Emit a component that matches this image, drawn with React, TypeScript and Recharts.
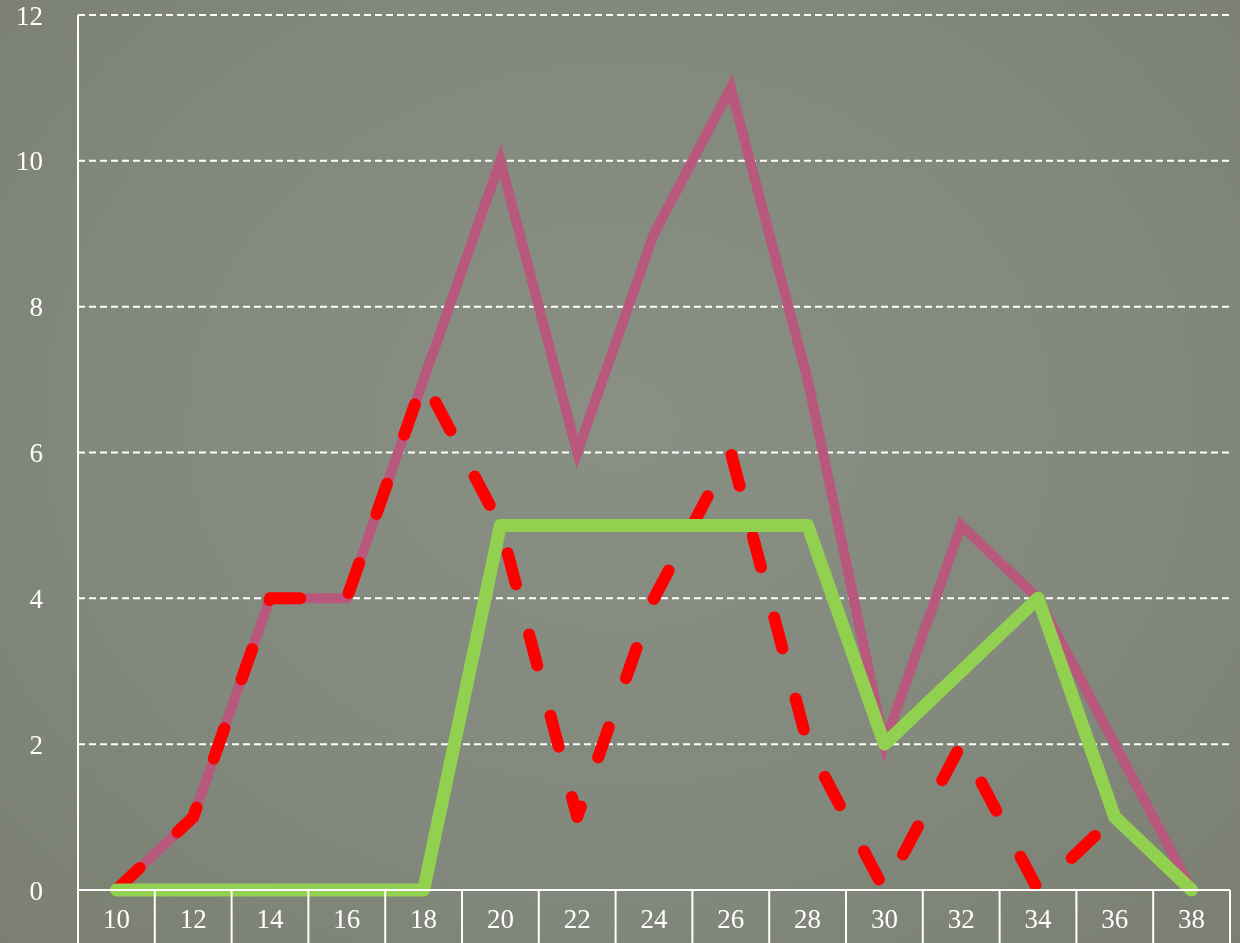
import React from 'react';
import { LineChart, Line, XAxis, YAxis, CartesianGrid } from 'recharts';

const categories = ['10', '12', '14', '16', '18', '20', '22', '24', '26', '28', '30', '32', '34', '36', '38'];
const pinkValues = [0, 1, 4, 4, 7, 10, 6, 9, 11, 7, 2, 5, 4, 2, 0];
const redValues = [0, 1, 4, 4, 7, 5, 1, 4, 6, 2, 0, 2, 0, 1, 0];
const greenValues = [0, 0, 0, 0, 0, 5, 5, 5, 5, 5, 2, 3, 4, 1, 0];
const yTicks = [0, 2, 4, 6, 8, 10, 12];

const data = categories.map((c, i) => ({
  x: c,
  pink: pinkValues[i],
  red: redValues[i],
  green: greenValues[i],
}));

const FONT = '"Liberation Serif", "DejaVu Serif", serif';

// category labels in white boxes: separators sit on the band edges
const XTick = (props: any) => {
  const { x, y, payload, index } = props;
  const half = payload.offset || 0;
  const last = index === categories.length - 1;
  return (
    <g>
      <line x1={x - half} y1={y} x2={x - half} y2={y + 60} stroke="#fff" strokeWidth={2} />
      {last && <line x1={x + half} y1={y} x2={x + half} y2={y + 60} stroke="#fff" strokeWidth={2} />}
      <text x={x} y={y + 38} textAnchor="middle" fill="#fff" fontSize={27} fontFamily={FONT}>
        {payload.value}
      </text>
    </g>
  );
};

export default function App() {
  return (
    <div
      style={{
        position: 'fixed',
        left: 0,
        top: 0,
        width: 1240,
        height: 943,
        overflow: 'hidden',
        background: 'radial-gradient(ellipse at 50% 45%, #8a8f84 0%, #83887c 60%, #7a7f72 100%)',
      }}
    >
      <LineChart
        width={1240}
        height={943}
        data={data}
        margin={{ top: 15, right: 10, bottom: 0, left: 0 }}
      >
        <CartesianGrid
          vertical={false}
          stroke="#fff"
          strokeWidth={2}
          strokeDasharray="7 4"
          horizontalValues={[2, 4, 6, 8, 10, 12]}
        />
        <XAxis
          dataKey="x"
          scale="band"
          height={53}
          axisLine={{ stroke: '#fff', strokeWidth: 2 }}
          tickLine={false}
          tickSize={0}
          tickMargin={0}
          tick={<XTick />}
          interval={0}
        />
        <YAxis
          width={78}
          domain={[0, 12]}
          ticks={yTicks}
          interval={0}
          axisLine={{ stroke: '#fff', strokeWidth: 2 }}
          tickLine={false}
          tickSize={0}
          tickMargin={35}
          tick={{ fill: '#fff', fontSize: 27, fontFamily: FONT }}
        />
        <Line
          dataKey="pink"
          stroke="#b8587c"
          strokeWidth={10}
          dot={false}
          isAnimationActive={false}
        />
        <Line
          dataKey="red"
          stroke="#ff0000"
          strokeWidth={12}
          strokeDasharray="32 52"
          strokeLinecap="round"
          strokeLinejoin="round"
          dot={false}
          isAnimationActive={false}
        />
        <Line
          dataKey="green"
          stroke="#92d050"
          strokeWidth={13}
          strokeLinejoin="round"
          strokeLinecap="round"
          dot={false}
          isAnimationActive={false}
        />
      </LineChart>
    </div>
  );
}
